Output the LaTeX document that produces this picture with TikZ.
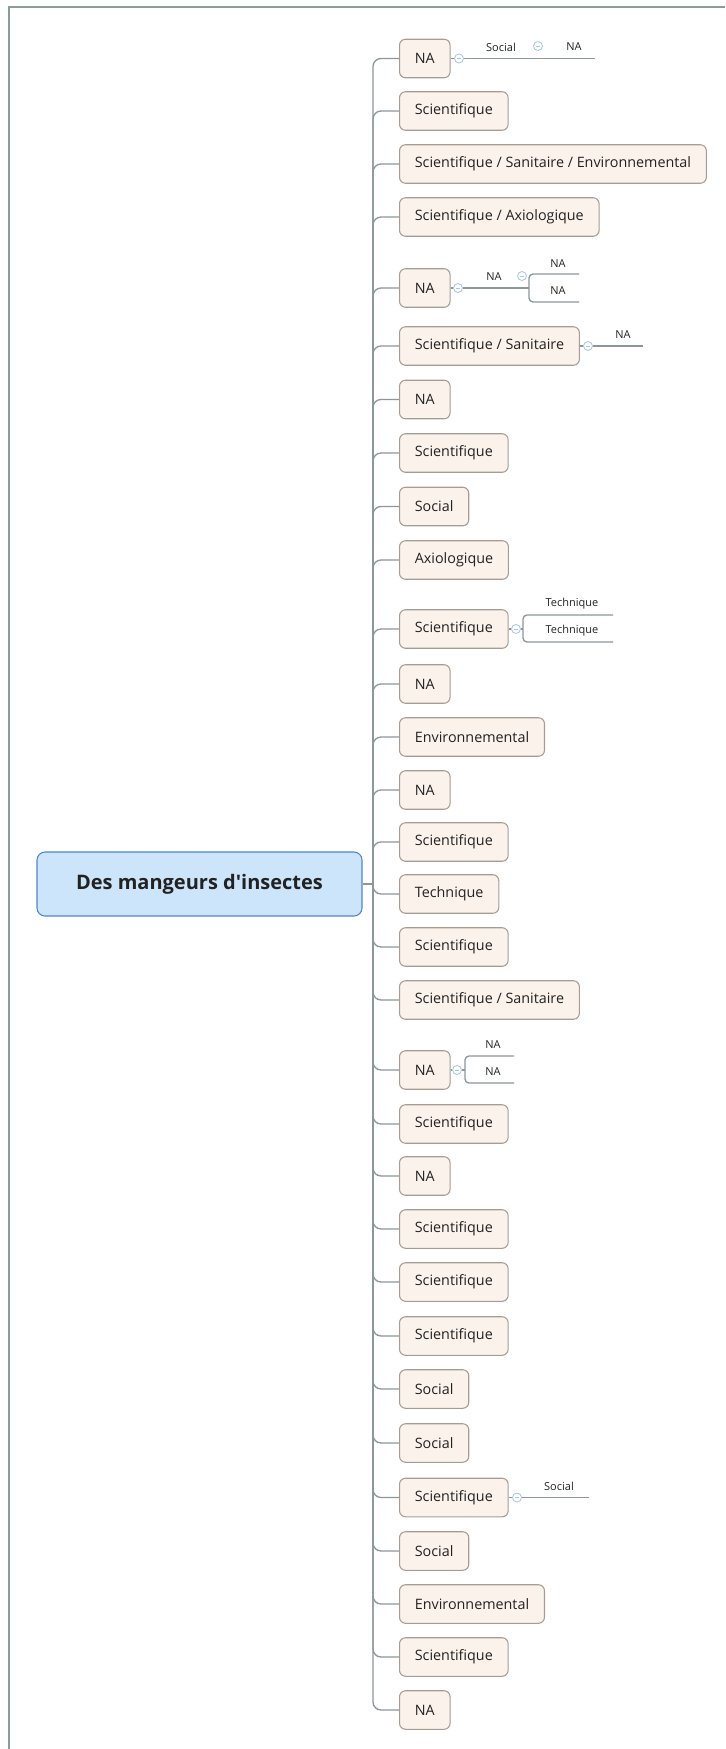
\documentclass[tikz,border=0pt]{standalone}
\usepackage{fontspec}
\setmainfont{Open Sans}[Ligatures=TeXOff]
\definecolor{subfill}{HTML}{FBF2EC}
\definecolor{subdraw}{HTML}{A59C94}
\definecolor{cfill}{HTML}{CDE5FB}
\definecolor{cdraw}{HTML}{4F84CF}
\definecolor{lin}{HTML}{8D9699}
\definecolor{circ}{HTML}{A8C4EA}
\definecolor{framec}{HTML}{8A9C99}
\definecolor{txt}{HTML}{222222}
\begin{document}
\begin{tikzpicture}[x=0.75pt,y=-0.75pt,
  sub/.style={draw=subdraw, fill=subfill, line width=0.8pt, rounded corners=4.5pt,
    minimum height=28.9pt, inner xsep=11.5pt, inner ysep=0pt, anchor=west,
    font=\fontsize{10.75pt}{12pt}\selectfont, text=txt},
  central/.style={draw=cdraw, fill=cfill, line width=0.8pt, rounded corners=6pt,
    minimum width=243.75pt, minimum height=48pt, inner sep=0pt,
    font=\fontsize{15pt}{18pt}\selectfont\bfseries, text=txt},
  conn/.style={draw=lin, line width=1pt},
  lbl/.style={inner sep=0pt, font=\fontsize{8.25pt}{10pt}\selectfont, text=txt},
  collapse/.style={circle, draw=circ, fill=white, minimum size=6.75pt, inner sep=0pt, line width=0.6pt,
    path picture={\draw[circ, line width=0.6pt] ([xshift=-1.8pt]path picture bounding box.center) -- ([xshift=1.8pt]path picture bounding box.center);}}
]
\useasboundingbox (0,0) rectangle (725,1749);
% frame
\coordinate (f1) at (9,1749);
\coordinate (f2) at (9,7);
\coordinate (f3) at (725,7);
\draw[framec, line width=1.5pt] (f1) -- (f2) -- (f3);

% central
\node[central] (c) at (199.5,884) {Des mangeurs d'insectes};
\coordinate (trunk) at (373,884);
\draw[conn] (c.east) -- (trunk);

\foreach \i/\y/\t in {
 0/58.5/NA,
 1/111/Scientifique,
 2/164/{Scientifique / Sanitaire / Environnemental},
 3/217/{Scientifique / Axiologique},
 4/288/NA,
 5/346/{Scientifique / Sanitaire},
 6/399.5/NA,
 7/453/Scientifique,
 8/506.5/Social,
 9/560/Axiologique,
 10/629/Scientifique,
 11/684/NA,
 12/737/Environnemental,
 13/790/NA,
 14/842/Scientifique,
 15/894/Technique,
 16/947/Scientifique,
 17/1000/{Scientifique / Sanitaire},
 18/1070/NA,
 19/1124/Scientifique,
 20/1176/NA,
 21/1229/Scientifique,
 22/1282/Scientifique,
 23/1336/Scientifique,
 24/1389/Social,
 25/1443/Social,
 26/1497.5/Scientifique,
 27/1551/Social,
 28/1604/Environnemental,
 29/1657/Scientifique,
 30/1710/NA}{
  \node[sub] (n\i) at (399,\y) {\t};
  \draw[conn, rounded corners=6pt] (trunk) |- (n\i.west);
}

% node 0 children
\node[collapse] (k0) at (459,58.5) {};
\draw[conn] (n0.east) -- (k0);
\coordinate (e0) at (595,58.5);
\draw[conn] (k0) -- (e0);
\node[lbl] (s0a) at (501,47) {Social};
\node[collapse] (k0b) at (538,46) {};
\node[lbl] (s0b) at (574,47) {NA};

% node 4 children
\node[collapse] (k4) at (458,288) {};
\draw[conn] (n4.east) -- (k4);
\node[lbl] (s4) at (494,277) {NA};
\node[collapse] (k4b) at (522,276) {};
\coordinate (b4) at (529,288);
\coordinate (u4a) at (579,274);
\coordinate (u4b) at (579,302);
\draw[conn] (k4) -- (b4);
\draw[conn, rounded corners=3pt] (u4a) -| (b4) |- (u4b);
\node[lbl] (s4a) at (558,264) {NA};
\node[lbl] (s4b) at (558,291) {NA};

% node 5 child
\node[collapse] (k5) at (588,346) {};
\draw[conn] (n5.east) -- (k5);
\coordinate (e5) at (643,346);
\draw[conn] (k5) -- (e5);
\node[lbl] (s5) at (623,335) {NA};

% node 10 children
\node[collapse] (k10) at (516,629) {};
\draw[conn] (n10.east) -- (k10);
\coordinate (b10) at (523,629);
\coordinate (u10a) at (613,615);
\coordinate (u10b) at (613,642);
\draw[conn] (k10) -- (b10);
\draw[conn, rounded corners=3pt] (u10a) -| (b10) |- (u10b);
\node[lbl] (s10a) at (572,604) {Technique};
\node[lbl] (s10b) at (572,631) {Technique};

% node 18 children
\node[collapse] (k18) at (457,1070) {};
\draw[conn] (n18.east) -- (k18);
\coordinate (b18) at (465,1070);
\coordinate (u18a) at (514,1056);
\coordinate (u18b) at (514,1083);
\draw[conn] (k18) -- (b18);
\draw[conn, rounded corners=3pt] (u18a) -| (b18) |- (u18b);
\node[lbl] (s18a) at (493,1045) {NA};
\node[lbl] (s18b) at (493,1072) {NA};

% node 26 child
\node[collapse] (k26) at (517,1497.5) {};
\draw[conn] (n26.east) -- (k26);
\coordinate (e26) at (589,1497.5);
\draw[conn] (k26) -- (e26);
\node[lbl] (s26) at (559,1486) {Social};
\end{tikzpicture}
\end{document}
